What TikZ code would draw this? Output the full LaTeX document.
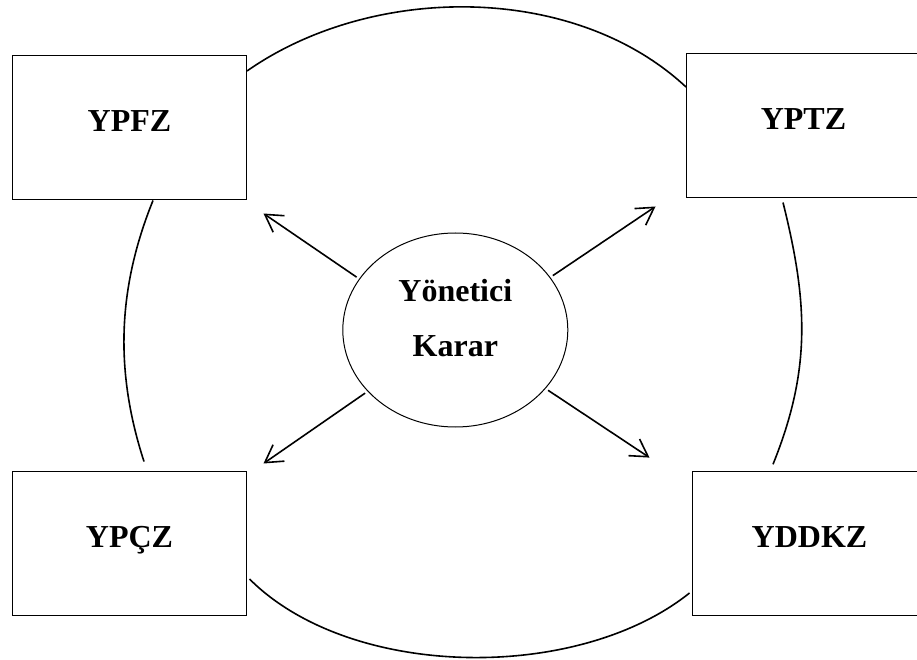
\documentclass[tikz,border=0pt]{standalone}
\usepackage{fontspec}
\setmainfont{Liberation Serif}
\usepackage{tikz}
\usetikzlibrary{shapes.geometric, positioning, arrows.meta}

\begin{document}
\begin{tikzpicture}[on grid, >={Straight Barb[length=17pt,width=20pt]},
        every node/.style={font=\bfseries\fontsize{32}{54.7}\selectfont},
        zone/.style={draw, line width=1pt, inner sep=0pt, minimum width=234pt, text height=76pt, text depth=68pt},
        link/.style={line width=1.6pt}]
        \useasboundingbox (0,0) rectangle (917pt,659pt);
        \node[ellipse, draw, line width=1pt, minimum width=225pt, minimum height=194pt, inner sep=0pt, align=center, text height=80pt, text depth=26.6pt] (karar) at (455.3pt,329pt) {Yönetici\\Karar};
        \node[zone] (ypfz)  [above left=202pt and 325.8pt of karar] {YPFZ};
        \node[zone] (yptz)  [above right=204pt and 348.2pt of karar] {YPTZ};
        \node[zone] (ypcz)  [below left=213.7pt and 325.8pt of karar] {YPÇZ};
        \node[zone] (yddkz) [below right=213.8pt and 354.2pt of karar] {YDDKZ};

        \path[link]
        ([yshift=57pt]ypfz.east) edge[out=35, in=137, looseness=0.89] ([yshift=39pt]yptz.west)
        ([xshift=23.5pt]ypfz.south) edge[out=248, in=108, looseness=0.93] ([shift={(14.5pt,9.7pt)}]ypcz.north)
        ([shift={(-20.5pt,-4pt)}]yptz.south) edge[out=284, in=68, looseness=1] ([shift={(-36.5pt,7pt)}]yddkz.north)
        ([shift={(2.5pt,-35.3pt)}]ypcz.east) edge[out=-45, in=218.7, looseness=0.83] ([shift={(-2.5pt,-49.2pt)}]yddkz.west);

        \path[link, ->, shorten <=3pt]
        (karar.152) edge ([shift={(16.5pt,-13pt)}]ypfz.south east)
        (karar.29)  edge ([shift={(-30.5pt,-8pt)}]yptz.south west)
        (karar.215) edge ([shift={(16.5pt,7.7pt)}]ypcz.north east)
        (karar.327) edge ([shift={(-42.5pt,13.7pt)}]yddkz.north west);
\end{tikzpicture}
\end{document}
